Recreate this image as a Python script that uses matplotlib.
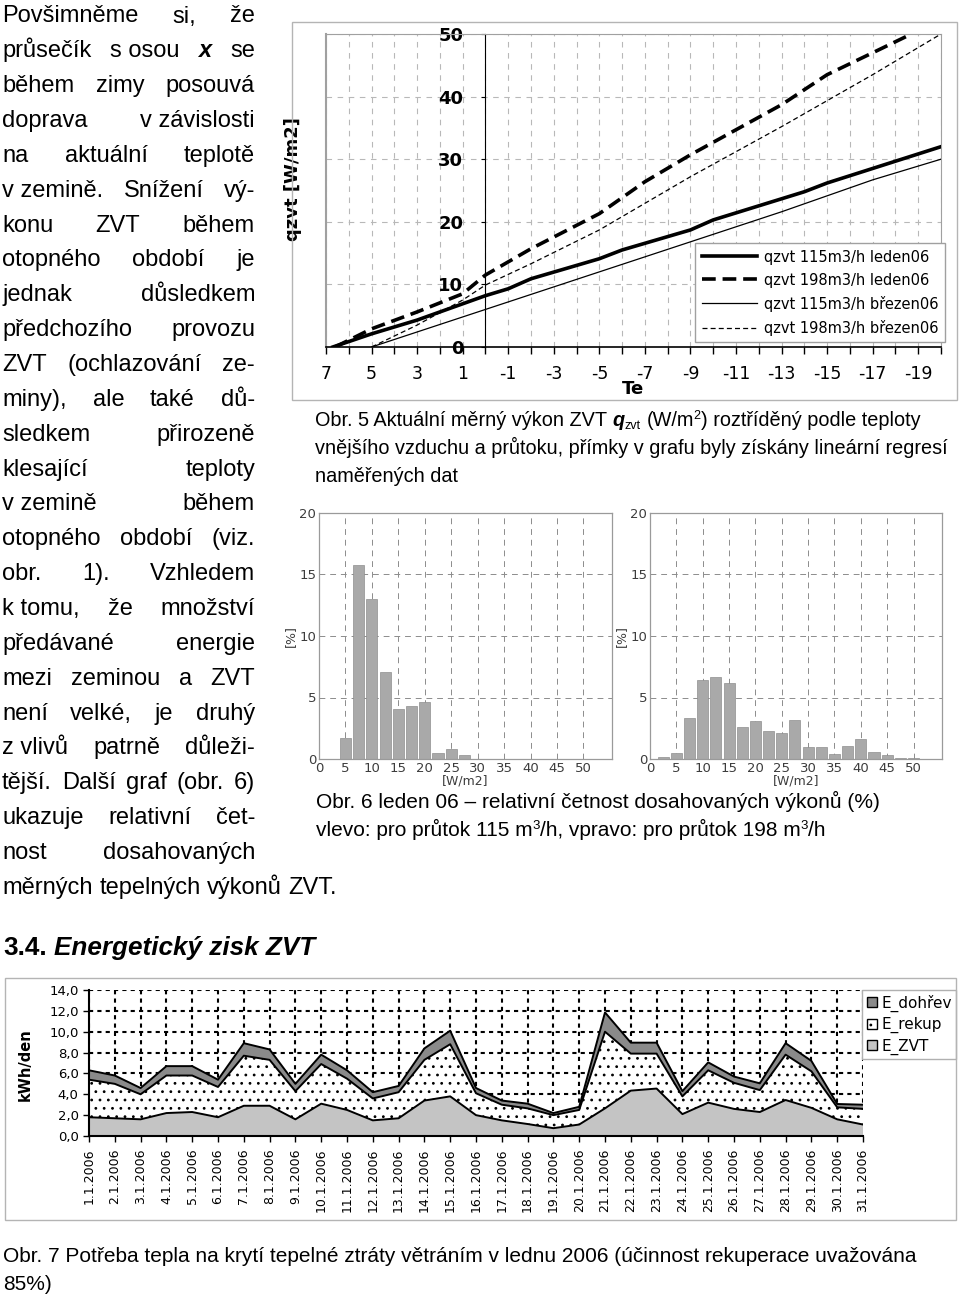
import numpy as np
import matplotlib
matplotlib.use('Agg')
import matplotlib.pyplot as plt
import matplotlib.patches as patches
from matplotlib.ticker import FixedLocator, MultipleLocator

plt.rcParams['axes.unicode_minus'] = False
plt.rcParams['hatch.linewidth'] = 0.8

### data

# Obr. 5 - q_zvt [W/m2] vs outdoor temperature Te
te_115_jan = [6.7, 5, 3, 1, 0, -1, -2, -5, -6, -9, -10, -14, -15, -20]
q_115_jan = [0, 2.1, 4.3, 6.9, 8.2, 9.3, 10.9, 14.1, 15.5, 18.7, 20.3, 24.8, 26.2, 32.0]
te_198_jan = [6.6, 5, 3, 1, 0, -2, -5, -7, -9, -11, -13, -15, -17, -18.7]
q_198_jan = [0, 2.9, 5.6, 8.5, 11.5, 15.7, 21.3, 26.4, 30.7, 34.7, 38.7, 43.5, 47.0, 50.0]
te_115_mar = [5, 3, 1, 0, -1, -5, -9, -13, -17, -20]
q_115_mar = [0, 2.4, 4.8, 6.0, 7.2, 12.0, 16.8, 21.6, 26.7, 30.0]
te_198_mar = [5, 3, 1, 0, -2, -5, -9, -13, -17, -20]
q_198_mar = [0, 3.5, 7.5, 9.9, 13.3, 18.7, 27.2, 35.2, 43.5, 50.0]
line_labels = ['qzvt 115m3/h leden06', 'qzvt 198m3/h leden06',
               'qzvt 115m3/h březen06', 'qzvt 198m3/h březen06']
te_ticks = [7, 5, 3, 1, -1, -3, -5, -7, -9, -11, -13, -15, -17, -19]

# Obr. 6 - relative frequency [%] of specific power [W/m2]
bin_centers = [2.5, 5, 7.5, 10, 12.5, 15, 17.5, 20, 22.5, 25,
               27.5, 30, 32.5, 35, 37.5, 40, 42.5, 45, 47.5, 50]
freq_115 = [0, 1.7, 15.8, 13.0, 7.1, 4.1, 4.3, 4.6, 0.5, 0.8,
            0.35, 0, 0, 0, 0, 0, 0, 0, 0, 0]
freq_198 = [0.15, 0.45, 3.3, 6.45, 6.67, 6.18, 2.6, 3.05, 2.25, 2.1,
            3.14, 0.95, 0.95, 0.43, 1.03, 1.63, 0.6, 0.33, 0.1, 0.1]

# Obr. 7 - daily energy [kWh/den], January 2006
days = list(range(1, 32))
day_labels = ['%d.1.2006' % d for d in days]
e_zvt = [1.8, 1.7, 1.6, 2.2, 2.3, 1.8, 2.9, 2.9, 1.6, 3.1, 2.5, 1.5, 1.7, 3.4, 3.8, 2.0,
         1.5, 1.15, 0.75, 1.1, 2.65, 4.35, 4.55, 2.1, 3.2, 2.6, 2.3, 3.45, 2.7, 1.6, 1.1]
e_rekup = [3.6, 3.3, 2.4, 3.6, 3.5, 2.9, 4.8, 4.4, 2.7, 3.8, 3.0, 2.1, 2.5, 3.9, 5.0, 2.1,
           1.5, 1.5, 1.25, 1.4, 7.35, 3.55, 3.35, 1.7, 3.1, 2.5, 2.1, 4.35, 3.5, 1.15, 1.5]
e_dohrev = [0.9, 0.8, 0.6, 0.9, 0.9, 0.7, 1.2, 1.0, 0.7, 0.9, 0.8, 0.6, 0.6, 1.1, 1.3, 0.5,
            0.4, 0.45, 0.2, 0.3, 1.85, 1.05, 1.05, 0.5, 0.76, 0.6, 0.65, 1.1, 1.0, 0.32, 0.4]

body_lines = [
    "Povšimněme si, že",
    "průsečík s\u00a0osou *x se",
    "během zimy posouvá",
    "doprava v\u00a0závislosti",
    "na aktuální teplotě",
    "v\u00a0zemině. Snížení vý-",
    "konu ZVT během",
    "otopného období je",
    "jednak důsledkem",
    "předchozího provozu",
    "ZVT (ochlazování ze-",
    "miny), ale také dů-",
    "sledkem přirozeně",
    "klesající teploty",
    "v\u00a0zemině během",
    "otopného období (viz.",
    "obr. 1). Vzhledem",
    "k\u00a0tomu, že množství",
    "předávané energie",
    "mezi zeminou a ZVT",
    "není velké, je druhý",
    "z\u00a0vlivů patrně důleži-",
    "tější. Další graf (obr. 6)",
    "ukazuje relativní čet-",
    "nost dosahovaných",
    "měrných tepelných výkonů ZVT.",
]

### layout helpers (pixel coordinates, origin top left)

W, H = 960, 1296
fig = plt.figure(figsize=(W / 100, H / 100), dpi=100)
renderer = fig.canvas.get_renderer()


def fx(x):
    return x / W


def fy(y):
    return 1 - y / H


def axes_px(l, t, r, b):
    return fig.add_axes([fx(l), fy(b), (r - l) / W, (b - t) / H])


def frame_px(l, t, r, b, color='#b4b4b4'):
    fig.patches.append(patches.Rectangle((fx(l), fy(b)), (r - l) / W, (b - t) / H,
                                         transform=fig.transFigure, fill=False,
                                         edgecolor=color, lw=1))


def put(x, y, s, **kw):
    return fig.text(fx(x), fy(y), s, ha='left', va='baseline', **kw)


def width_of(t):
    return t.get_window_extent(renderer).width


def space_w(kw):
    a = put(0, 0, 'a a', **kw)
    b = put(0, 0, 'aa', **kw)
    w = width_of(a) - width_of(b)
    a.remove()
    b.remove()
    return w


def runs(x, y, items):
    '''items: list of (text, props, dy) ; text ' ' means one space'''
    for s, kw, dy in items:
        if s == ' ':
            x += space_w(kw)
            continue
        t = put(x, y - dy, s, **kw)
        x += width_of(t)
    return x


BODY = dict(family=['Liberation Sans', 'DejaVu Sans'], size=17, color='k')


def body_line(y, line, x0, x1, justify=True):
    objs = []
    for w in line.split(' '):
        kw = dict(BODY)
        if w.startswith('*'):
            w = w[1:]
            kw.update(weight='bold', style='italic')
        objs.append(put(x0, y, w, **kw))
    widths = [width_of(t) for t in objs]
    if justify and len(objs) > 1:
        gap = (x1 - x0 - sum(widths)) / (len(objs) - 1)
    else:
        gap = space_w(BODY)
    x = x0
    for t, w in zip(objs, widths):
        t.set_x(fx(x))
        x += w + gap


### left column text
for i, line in enumerate(body_lines):
    body_line(22.5 + 34.85 * i, line, 2, 255, justify=(i < len(body_lines) - 1))

### captions
CAP = dict(family=['Liberation Sans', 'DejaVu Sans'], size=14.3, color='k')
CAP_BI = dict(CAP, weight='bold', style='italic')
CAP_S = dict(CAP, size=9)
CAP2 = dict(CAP, size=15)
CAP2_S = dict(CAP2, size=9.5)

runs(315, 426, [('Obr. 5 Aktuální měrný výkon ZVT', CAP, 0), (' ', CAP, 0),
                ('q', CAP_BI, 0), ('zvt', CAP_S, -3), (' ', CAP, 0), ('(W/m', CAP, 0),
                ('2', CAP_S, 7), (') roztříděný podle teploty', CAP, 0)])
put(315, 454, 'vnějšího vzduchu a průtoku, přímky v grafu byly získány lineární regresí', **CAP)
put(315, 482, 'naměřených dat', **CAP)

put(316, 808, 'Obr. 6 leden 06 – relativní četnost dosahovaných výkonů (%)', **CAP2)
runs(316, 836, [('vlevo: pro průtok 115 m', CAP2, 0), ('3', CAP2_S, 7),
                ('/h, vpravo: pro průtok 198 m', CAP2, 0), ('3', CAP2_S, 7), ('/h', CAP2, 0)])

put(3, 1262, 'Obr. 7 Potřeba tepla na krytí tepelné ztráty větráním v lednu 2006 '
             '(účinnost rekuperace uvažována', **CAP2)
put(3, 1290, '85%)', **CAP2)

HEAD = dict(family=['Liberation Sans', 'DejaVu Sans'], size=18.8, weight='bold')
runs(3, 955, [('3.4.', HEAD, 0), (' ', HEAD, 0),
              ('Energetický zisk ZVT', dict(HEAD, style='italic'), 0)])

### Obr. 5 - regression lines
frame_px(292, 22, 957, 400)
ax1 = axes_px(326, 34, 941, 347)
ax1.spines['left'].set_position(('data', 0))
ax1.plot(te_115_jan, q_115_jan, color='k', lw=2.6, label=line_labels[0], zorder=3)
ax1.plot(te_198_jan, q_198_jan, color='k', lw=2.6, ls=(0, (3.8, 1.9)),
         label=line_labels[1], zorder=3)
ax1.plot(te_115_mar, q_115_mar, color='k', lw=0.9, label=line_labels[2], zorder=3)
ax1.plot(te_198_mar, q_198_mar, color='k', lw=0.9, ls=(0, (4, 2.5)),
         label=line_labels[3], zorder=3)
ax1.set_xlim(7, -20)
ax1.set_ylim(0, 50)
ax1.xaxis.set_major_locator(FixedLocator(te_ticks))
ax1.xaxis.set_minor_locator(MultipleLocator(1))
ax1.set_xticklabels([str(v) for v in te_ticks], fontsize=12.5, family='DejaVu Sans')
ax1.set_yticks(range(0, 51, 10), labels=[str(v) for v in range(0, 51, 10)],
               fontsize=13, fontweight='bold', family='DejaVu Sans')
ax1.tick_params(axis='x', which='both', direction='out', length=5, width=1, pad=8)
ax1.tick_params(axis='y', direction='out', length=3, pad=13)
ax1.grid(True, which='both', axis='x', color='#b8b8b8', lw=0.8, ls=(0, (5, 5)))
ax1.grid(True, which='major', axis='y', color='#b8b8b8', lw=0.8, ls=(0, (5, 5)))
ax1.set_axisbelow(True)
ax1.spines['left'].set_color('k')
ax1.spines['bottom'].set_color('k')
ax1.spines['bottom'].set_linewidth(1.2)
for s in ('top', 'right'):
    ax1.spines[s].set_color('#a0a0a0')
ax1.axvline(7, color='#a0a0a0', lw=1.5, clip_on=False)
ax1.set_xlabel('Te', fontsize=13, fontweight='bold', family='DejaVu Sans', labelpad=-2)
ax1.set_ylabel('qzvt [W/m2]', fontsize=13, fontweight='bold', family='DejaVu Sans')
ax1.yaxis.set_label_coords((302 - 326) / 615, (347 - 179) / 313)
leg1 = ax1.legend(loc='upper left', bbox_to_anchor=(fx(695), fy(243)),
                  bbox_transform=fig.transFigure, frameon=True, fancybox=False,
                  edgecolor='#a0a0a0', framealpha=1, borderaxespad=0,
                  handlelength=3.8, handletextpad=0.45, labelspacing=0.55,
                  borderpad=0.45, prop=dict(family='DejaVu Sans', size=10.5))
leg1.get_frame().set_linewidth(1)

### Obr. 6 - histograms


def histogram(l, r, vals):
    ax = axes_px(l, 513, r, 759)
    ax.bar(bin_centers, vals, width=2.1, color='#a9a9a9', edgecolor='#8f8f8f',
           lw=0.5, zorder=2)
    ax.set_xlim(0, 55.4)
    ax.set_ylim(0, 20)
    ax.set_xticks(range(0, 51, 5))
    ax.set_yticks(range(0, 21, 5))
    ax.tick_params(length=0, pad=2, labelsize=9.5, labelcolor='#3c3c3c')
    ax.set_axisbelow(True)
    ax.grid(True, color='#8c8c8c', lw=0.7, ls=(0, (6, 5)))
    for s in ax.spines.values():
        s.set_color('#9a9a9a')
        s.set_linewidth(0.9)
    ax.set_xlabel('[W/m2]', fontsize=9, color='#3c3c3c', labelpad=0)
    ax.set_ylabel('[%]', fontsize=9, color='#3c3c3c', labelpad=2)
    return ax


histogram(319, 612, freq_115)
histogram(650, 942, freq_198)

### Obr. 7 - stacked energy areas
frame_px(5, 978, 956, 1220)
ax3 = axes_px(89, 990, 863, 1136)
z = np.array(e_zvt)
r = z + np.array(e_rekup)
t = r + np.array(e_dohrev)
ax3.fill_between(days, 0, z, facecolor='#c4c4c4', lw=0, zorder=2)
ax3.fill_between(days, z, r, facecolor='white', hatch='..', edgecolor='k', lw=0, zorder=2)
ax3.fill_between(days, r, t, facecolor='#8a8a8a', lw=0, zorder=2)
for yy in (z, r, t):
    ax3.plot(days, yy, color='k', lw=1.4, zorder=3)
ax3.set_xlim(1, 31)
ax3.set_ylim(0, 14)
ax3.set_xticks(days, labels=day_labels, rotation=90, fontsize=9, family='DejaVu Sans')
ax3.set_yticks(range(0, 15, 2), labels=['%d,0' % v for v in range(0, 15, 2)],
               fontsize=9.5, family='DejaVu Sans')
ax3.tick_params(direction='out', length=4, width=1)
ax3.tick_params(axis='x', pad=5)
ax3.set_axisbelow(True)
ax3.grid(True, color='k', lw=1.5, ls=(0, (2, 2)))
ax3.spines['top'].set_visible(False)
ax3.spines['right'].set_visible(False)
ax3.spines['left'].set_linewidth(1.5)
ax3.spines['bottom'].set_linewidth(1.5)
ax3.set_ylabel('kWh/den', fontsize=10.5, fontweight='bold', family='DejaVu Sans')
ax3.yaxis.set_label_coords((33 - 89) / 774, (1136 - 1065) / 146)
handles = [patches.Patch(facecolor='#8a8a8a', edgecolor='k', label='E_dohřev'),
           patches.Patch(facecolor='white', edgecolor='k', hatch='..', label='E_rekup'),
           patches.Patch(facecolor='#c4c4c4', edgecolor='k', label='E_ZVT')]
leg3 = ax3.legend(handles=handles, loc='upper left', bbox_to_anchor=(fx(862), fy(990)),
                  bbox_transform=fig.transFigure, frameon=True, fancybox=False,
                  edgecolor='#b0b0b0', framealpha=1, borderaxespad=0,
                  handlelength=0.65, handleheight=0.65, handletextpad=0.3,
                  labelspacing=0.35, borderpad=0.3,
                  prop=dict(family='DejaVu Sans', size=11))
leg3.get_frame().set_linewidth(1)

fig.savefig('out.png', dpi=100)
